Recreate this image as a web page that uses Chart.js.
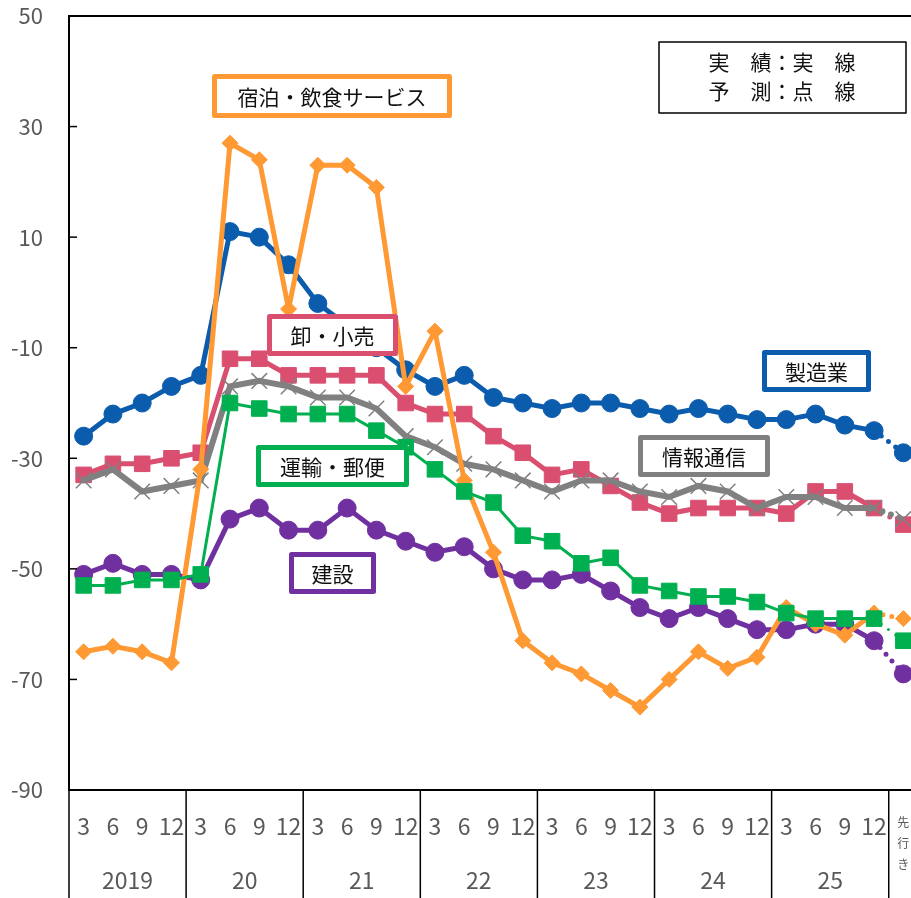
<!DOCTYPE html>
<html lang="ja">
<head>
<meta charset="utf-8">
<script src="https://cdn.jsdelivr.net/npm/chart.js@4.4.1/dist/chart.umd.min.js"></script>
<style>
  html, body {
    margin: 0;
    padding: 0;
    background: #fff;
    overflow: hidden;
  }
  #wrap {
    width: 918px;
    height: 898px;
  }
</style>
</head>
<body>
<div id="wrap"><canvas id="chart" width="918" height="898"></canvas></div>
<script>
const years = ['2019', '20', '21', '22', '23', '24', '25'];
const months = ['3', '6', '9', '12'];
const forecastLabel = ['先', '行', 'き'];
const yMin = -90;
const yMax = 50;
const yStep = 20;

const manufacturing = [-26, -22, -20, -17, -15, 11, 10, 5, -2, -6, -10, -14, -17, -15, -19, -20, -21, -20, -20, -21, -22, -21, -22, -23, -23, -22, -24, -25, -29];
const wholesale = [-33, -31, -31, -30, -29, -12, -12, -15, -15, -15, -15, -20, -22, -22, -26, -29, -33, -32, -35, -38, -40, -39, -39, -39, -40, -36, -36, -39, -42];
const infoComm = [-34, -32, -36, -35, -34, -17, -16, -17, -19, -19, -21, -26, -28, -31, -32, -34, -36, -34, -34, -36, -37, -35, -36, -39, -37, -37, -39, -39, -41];
const transport = [-53, -53, -52, -52, -51, -20, -21, -22, -22, -22, -25, -28, -32, -36, -38, -44, -45, -49, -48, -53, -54, -55, -55, -56, -58, -59, -59, -59, -63];
const construction = [-51, -49, -51, -51, -52, -41, -39, -43, -43, -39, -43, -45, -47, -46, -50, -52, -52, -51, -54, -57, -59, -57, -59, -61, -61, -60, -60, -63, -69];
const hospitality = [-65, -64, -65, -67, -32, 27, 24, -3, 23, 23, 19, -17, -7, -34, -47, -63, -67, -69, -72, -75, -70, -65, -68, -66, -57, -60, -62, -58, -59];

const categories = years.flatMap(() => months).concat([forecastLabel]);
const lastIndex = categories.length - 1;

const FONT = "'Noto Sans CJK JP', 'Noto Sans', sans-serif";
const TICK_COLOR = '#595959';

// name boxes placed like the original
const nameBoxes = [
    { text: '宿泊・飲食サービス', color: '#FF9933', x: 212, y: 74, w: 240, h: 44 },
    { text: '卸・小売', color: '#DA4F70', x: 267, y: 314, w: 131, h: 42 },
    { text: '製造業', color: '#0B5CAD', x: 762, y: 350, w: 109, h: 42 },
    { text: '情報通信', color: '#808080', x: 638, y: 435, w: 132, h: 42 },
    { text: '運輸・郵便', color: '#00B050', x: 256, y: 445, w: 153, h: 42 },
    { text: '建設', color: '#7030A0', x: 289, y: 552, w: 87, h: 42 }
];

function series(label, data, color, opts) {
    return Object.assign({
        label: label,
        data: data,
        borderColor: color,
        backgroundColor: color,
        pointBackgroundColor: color,
        pointBorderColor: color,
        borderWidth: 5,
        pointBorderWidth: 1,
        pointRadius: 9,
        tension: 0,
        borderCapStyle: 'round',
        segment: {
            borderDash: ctx => ctx.p1DataIndex === lastIndex ? [0, 9] : undefined
        }
    }, opts);
}

const decorations = {
    id: 'decorations',
    afterDraw(chart) {
        const { ctx, chartArea: a, scales: { x, y } } = chart;
        ctx.save();

        // frame of the plot area
        ctx.strokeStyle = '#000';
        ctx.lineWidth = 2;
        ctx.strokeRect(a.left, a.top, a.right - a.left, a.bottom - a.top);

        // inward tick marks on the y axis
        ctx.lineWidth = 1.5;
        y.ticks.forEach(t => {
            const py = y.getPixelForValue(t.value);
            ctx.beginPath();
            ctx.moveTo(a.left, py);
            ctx.lineTo(a.left + 8, py);
            ctx.stroke();
        });

        // year separators and year labels
        const step = x.getPixelForValue(1) - x.getPixelForValue(0);
        ctx.lineWidth = 1.5;
        for (let k = 0; k <= years.length; k++) {
            const px = x.getPixelForValue(k * months.length) - step / 2;
            ctx.beginPath();
            ctx.moveTo(px, a.bottom);
            ctx.lineTo(px, chart.height);
            ctx.stroke();
        }
        ctx.fillStyle = TICK_COLOR;
        ctx.font = '23px ' + FONT;
        ctx.textAlign = 'center';
        ctx.textBaseline = 'middle';
        years.forEach((yr, k) => {
            const cx = (x.getPixelForValue(k * 4) + x.getPixelForValue(k * 4 + 3)) / 2;
            ctx.fillText(yr, cx, 880);
        });

        // series name boxes
        ctx.font = '21px ' + FONT;
        ctx.lineJoin = 'round';
        nameBoxes.forEach(b => {
            ctx.fillStyle = '#fff';
            ctx.fillRect(b.x, b.y, b.w, b.h);
            ctx.strokeStyle = b.color;
            ctx.lineWidth = 5;
            ctx.strokeRect(b.x + 2.5, b.y + 2.5, b.w - 5, b.h - 5);
            ctx.fillStyle = '#111';
            ctx.fillText(b.text, b.x + b.w / 2, b.y + b.h / 2 + 1);
        });

        // legend note box
        ctx.fillStyle = '#fff';
        ctx.fillRect(659, 42, 247, 71);
        ctx.strokeStyle = '#000';
        ctx.lineWidth = 1.5;
        ctx.strokeRect(659, 42, 247, 71);
        ctx.fillStyle = '#111';
        ctx.font = '21px ' + FONT;
        ctx.fillText('実　績：実　線', 782, 62);
        ctx.fillText('予　測：点　線', 782, 91);

        ctx.restore();
    }
};

new Chart(document.getElementById('chart'), {
    type: 'line',
    data: {
        labels: categories,
        datasets: [
            series('運輸・郵便', transport, '#00B050', { borderWidth: 3, pointStyle: 'rect', pointRadius: 11, order: 0 }),
            series('宿泊・飲食サービス', hospitality, '#FF9933', { pointStyle: 'rectRot', pointRadius: 8, order: 1 }),
            series('建設', construction, '#7030A0', { pointStyle: 'circle', pointRadius: 9, order: 2 }),
            series('情報通信', infoComm, '#808080', { borderWidth: 6, pointStyle: 'crossRot', pointRadius: 11, pointBorderWidth: 1.5, order: 3 }),
            series('卸・小売', wholesale, '#DA4F70', { pointStyle: 'rect', pointRadius: 11, order: 4 }),
            series('製造業', manufacturing, '#0B5CAD', { pointStyle: 'circle', pointRadius: 9, order: 5 })
        ]
    },
    options: {
        responsive: false,
        animation: false,
        devicePixelRatio: 1,
        layout: {
            autoPadding: false,
            padding: { top: 16, left: 0, right: 0, bottom: 0 }
        },
        plugins: {
            legend: { display: false },
            tooltip: { enabled: false }
        },
        scales: {
            x: {
                type: 'category',
                offset: true,
                grid: {
                    display: true,
                    drawOnChartArea: false,
                    drawTicks: true,
                    tickLength: 22,
                    color: 'rgba(0,0,0,0)',
                    tickColor: 'rgba(0,0,0,0)'
                },
                border: { display: false },
                ticks: {
                    autoSkip: false,
                    maxRotation: 0,
                    padding: 0,
                    color: TICK_COLOR,
                    font: ctx => ctx.index === lastIndex
                        ? { family: FONT, size: 12, lineHeight: 1.75 }
                        : { family: FONT, size: 23 }
                },
                afterFit(scale) {
                    scale.height = 108;
                    scale.paddingLeft = 0;
                    scale.paddingRight = 0;
                }
            },
            y: {
                min: yMin,
                max: yMax,
                grid: {
                    drawTicks: false,
                    color: ctx => ctx.tick && ctx.tick.value === 0 ? '#000' : 'rgba(0,0,0,0)',
                    lineWidth: 1.5
                },
                border: { display: false },
                ticks: {
                    stepSize: yStep,
                    padding: 26,
                    color: TICK_COLOR,
                    font: { family: FONT, size: 22 }
                },
                afterFit(scale) {
                    scale.width = 69;
                    scale.paddingTop = 0;
                    scale.paddingBottom = 0;
                }
            }
        }
    },
    plugins: [decorations]
});
</script>
</body>
</html>
